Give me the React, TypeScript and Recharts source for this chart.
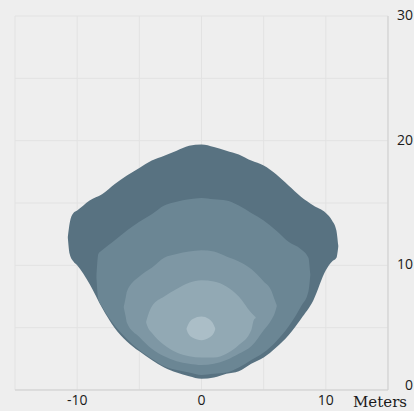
import React from 'react';
import { ComposedChart, Area, XAxis, YAxis, CartesianGrid, Label } from 'recharts';

// Contour level 1 (outermost)
const level1X = [-10.75, -10.6, -10.3, -10, -9, -8, -7, -6, -5, -4, -3, -2, -1, 0, 1, 2, 3, 4, 5, 6, 7, 8, 9, 10, 10.5, 10.85, 11.0];
const level1High = [12.3, 13.4, 14.2, 14.4, 15.2, 15.7, 16.5, 17.2, 17.8, 18.4, 18.8, 19.2, 19.6, 19.7, 19.5, 19.2, 18.9, 18.4, 18.0, 17.3, 16.4, 15.5, 14.8, 14.2, 13.6, 12.8, 11.6];
const level1Low = [12.2, 10.9, 10.3, 10.0, 8.5, 6.6, 5.0, 3.9, 3.1, 2.4, 1.8, 1.4, 1.1, 0.9, 1.0, 1.3, 1.5, 2.1, 2.6, 3.4, 4.4, 5.7, 7.2, 9.6, 10.3, 10.6, 11.5];

// Contour level 2
const level2X = [-8.45, -8.3, -8, -7, -6, -5, -4, -3, -2, -1, 0, 1, 2, 3, 4, 5, 6, 7, 8, 8.6, 8.75];
const level2High = [9.2, 10.9, 11.2, 12.0, 12.8, 13.5, 14.1, 14.8, 15.1, 15.3, 15.4, 15.3, 15.2, 14.8, 14.2, 13.6, 12.8, 11.9, 11.3, 10.6, 9.3];
const level2Low = [9.0, 7.3, 6.7, 5.2, 4.1, 3.2, 2.5, 1.9, 1.6, 1.4, 1.2, 1.3, 1.4, 1.8, 2.4, 3.0, 3.9, 5.1, 6.7, 7.9, 9.2];

// Contour level 3
const level3X = [-6.25, -6.1, -6, -5, -4, -3, -2, -1, 0, 1, 2, 3, 4, 5, 5.6, 5.9, 6.05];
const level3High = [6.7, 7.4, 7.9, 9.1, 9.8, 10.6, 10.9, 11.1, 11.2, 11.1, 10.7, 10.3, 9.7, 8.7, 8.0, 7.2, 6.8];
const level3Low = [6.6, 5.9, 5.4, 4.25, 3.3, 2.7, 2.3, 2.1, 2.0, 2.1, 2.4, 2.9, 3.5, 4.8, 5.6, 6.2, 6.7];

// Contour level 4
const level4X = [-4.45, -4.3, -4, -3, -2, -1, 0, 1, 2, 3, 4, 4.2, 4.35];
const level4High = [5.5, 6.0, 6.7, 7.5, 8.1, 8.6, 8.8, 8.7, 8.3, 7.5, 6.2, 6.0, 5.85];
const level4Low = [5.4, 5.0, 4.6, 3.6, 3.0, 2.7, 2.6, 2.6, 2.9, 3.6, 4.8, 5.6, 5.75];

// Contour level 5 (peak)
const level5X = [-1.2, -1.1, -0.7, 0, 0.6, 1.0, 1.1];
const level5High = [4.95, 5.2, 5.7, 5.9, 5.7, 5.2, 4.95];
const level5Low = [4.85, 4.6, 4.2, 4.0, 4.2, 4.6, 4.85];

const xTicks = [-15, -10, -5, 0, 5, 10, 15];
const xTickLabels = [-10, 0, 10];
const yTicks = [0, 5, 10, 15, 20, 25, 30];
const yTickLabels = [0, 10, 20, 30];
const xUnit = 'Meters';

const levels = [
  { key: 'l1', xs: level1X, hi: level1High, lo: level1Low, color: '#587281' },
  { key: 'l2', xs: level2X, hi: level2High, lo: level2Low, color: '#6b8694' },
  { key: 'l3', xs: level3X, hi: level3High, lo: level3Low, color: '#7e97a4' },
  { key: 'l4', xs: level4X, hi: level4High, lo: level4Low, color: '#92a9b4' },
  { key: 'l5', xs: level5X, hi: level5High, lo: level5Low, color: '#abbec7' },
];

const allX = Array.from(new Set(levels.flatMap((l) => l.xs))).sort((a, b) => a - b);
const data = allX.map((x) => {
  const row: any = { x };
  levels.forEach((l) => {
    const i = l.xs.indexOf(x);
    row[l.key] = i >= 0 ? [l.lo[i], l.hi[i]] : null;
  });
  return row;
});

const numFont = '"Open Sans", sans-serif';

const YTick = (props: any) => {
  const v = props.payload?.value;
  if (!yTickLabels.includes(v)) return <g />;
  return (
    <text x={413} y={props.y + (v === 0 ? 0 : 4)} textAnchor="end" fill="#1a1a1a" fontSize={14} fontFamily={numFont}>
      {String(v)}
    </text>
  );
};

export default function App() {
  return (
    <div style={{ position: 'fixed', left: 0, top: 0, width: 414, height: 411, background: '#eeeeee' }}>
      <ComposedChart width={414} height={411} data={data} margin={{ top: 16, right: 0, left: 15, bottom: 0 }}>
        <CartesianGrid stroke="#e2e2e2" strokeWidth={1} />
        <XAxis
          type="number"
          dataKey="x"
          domain={[-15, 15]}
          ticks={xTicks}
          allowDataOverflow
          height={21}
          tickLine={false}
          tickSize={3}
          tickMargin={2}
          axisLine={{ stroke: '#cfcfcf' }}
          tick={{ fill: '#1a1a1a', fontSize: 14, fontFamily: numFont }}
          tickFormatter={(v: number) => (xTickLabels.includes(v) ? String(v) : '')}
          interval={0}
        >
          <Label
            value={xUnit}
            position="right"
            offset={-35}
            dy={1}
            style={{ fill: '#1a1a1a', fontSize: 15, fontFamily: '"DejaVu Serif", serif' }}
          />
        </XAxis>
        <YAxis
          orientation="right"
          type="number"
          domain={[0, 30]}
          ticks={yTicks}
          width={26}
          tickLine={false}
          axisLine={{ stroke: '#cfcfcf' }}
          tick={<YTick />}
          interval={0}
        />
        {levels.map((l) => (
          <Area
            key={l.key}
            dataKey={l.key}
            type="monotone"
            stroke="none"
            fill={l.color}
            fillOpacity={1}
            connectNulls
            isAnimationActive={false}
            dot={false}
            activeDot={false}
          />
        ))}
      </ComposedChart>
    </div>
  );
}
